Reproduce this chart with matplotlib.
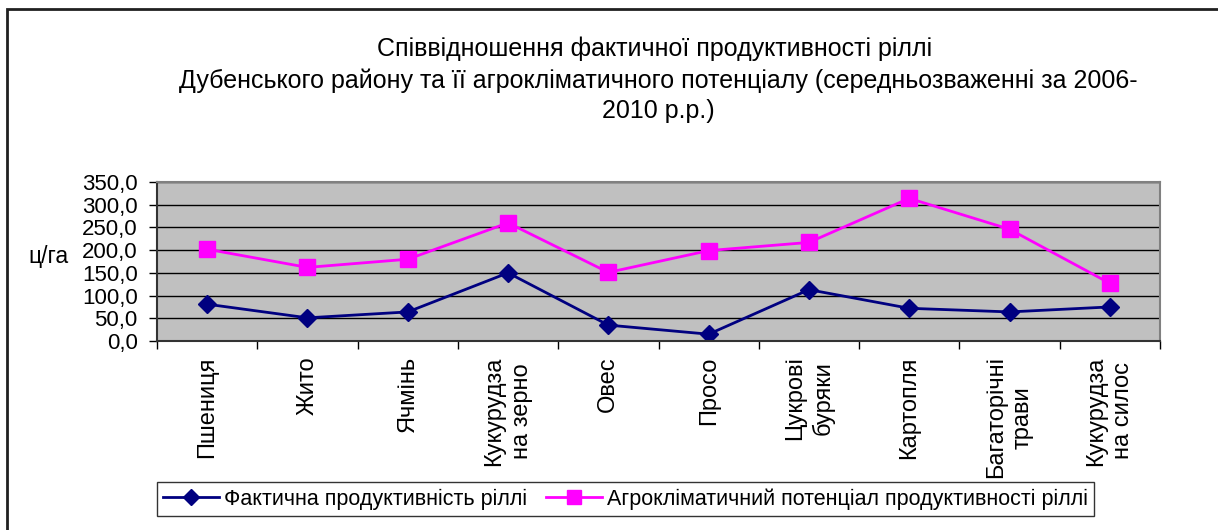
import matplotlib.pyplot as plt
from matplotlib.patches import Rectangle
from matplotlib.ticker import FuncFormatter, MultipleLocator

crops = ["Пшениця", "Жито", "Ячмінь", "Кукурудза\nна зерно", "Овес", "Просо",
         "Цукрові\nбуряки", "Картопля", "Багаторічні\nтрави", "Кукурудза\nна силос"]
actual = [81, 51, 64, 150, 35, 15, 113, 72, 64, 75]
potential = [202, 162, 180, 260, 151, 199, 217, 314, 246, 127]

title = ("Співвідношення фактичної продуктивності ріллі \n"
         "Дубенського району та її агрокліматичного потенціалу (середньозваженні за 2006-\n"
         "2010 р.р.)")

plt.rcParams["font.family"] = ["Liberation Sans", "DejaVu Sans"]

W, H = 1218, 530
fig = plt.figure(figsize=(W / 100, H / 100), dpi=100)

# outer chart border
fig.patches.append(Rectangle((7 / W, -0.01), 1.1, 1 - 9 / H + 0.01, transform=fig.transFigure,
                             fill=False, edgecolor="#202020", lw=2))

ax = fig.add_axes([157 / W, 1 - 341 / H, (1160 - 157) / W, 159 / H])
ax.set_facecolor("#C0C0C0")

x = list(range(len(crops)))
ax.plot(x, actual, color="#000080", lw=2, marker="D", ms=9.5, label="Фактична продуктивність ріллі")
ax.plot(x, potential, color="#FF00FF", lw=2, marker="s", ms=11.5,
        label="Агрокліматичний потенціал продуктивності ріллі")

ax.set_xlim(-0.5, len(crops) - 0.5)
ax.set_ylim(0, 350)
ax.yaxis.set_major_locator(MultipleLocator(50))
ax.yaxis.set_major_formatter(FuncFormatter(lambda v, p: f"{v:.1f}".replace(".", ",")))
ax.grid(axis="y", color="black", lw=1)
ax.set_axisbelow(True)

ax.set_xticks(x)
ax.set_xticklabels(crops, rotation=90, fontsize=17, va="top", ha="center", multialignment="center",
                   linespacing=1.3)
ax.set_xticks([i - 0.5 for i in range(len(crops) + 1)], minor=True)
ax.tick_params(axis="x", which="major", length=0, pad=11)
ax.tick_params(axis="x", which="minor", length=6, width=1, direction="out")
ax.tick_params(axis="y", length=6, width=1, direction="out", labelsize=16, pad=8)

for s in ["top", "right"]:
    ax.spines[s].set_color("#808080")
    ax.spines[s].set_linewidth(1.5)
for s in ["left", "bottom"]:
    ax.spines[s].set_color("#333333")
    ax.spines[s].set_linewidth(1.5)

fig.text(28 / W, 1 - 257 / H, "ц/га", fontsize=16.5, ha="left", va="center")

fig.text(658 / W, 1 - 80 / H, title, fontsize=18, ha="center", va="center", linespacing=1.35)

leg = fig.legend(loc="center left", bbox_to_anchor=(157 / W, 1 - 499 / H), ncol=2,
                 frameon=True, fancybox=False, edgecolor="black", borderaxespad=0,
                 prop={"size": 15.5}, handlelength=2.6, handletextpad=0.2,
                 columnspacing=0.9, borderpad=0.3, markerscale=0.85)
leg.get_frame().set_linewidth(1)

fig.savefig("out.png", dpi=100)
